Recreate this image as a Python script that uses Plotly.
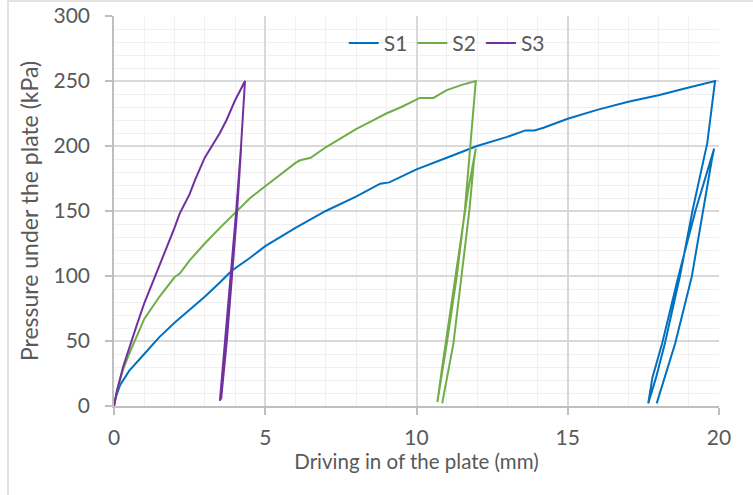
import plotly.graph_objects as go

# S1 (blue)
s1_x = [0, 0.05, 0.2, 0.5, 1, 1.5, 2, 2.5, 3, 3.5, 3.89, 4.5, 5, 6, 7, 8, 8.8, 9.1, 10, 11, 12, 13, 13.6, 13.9, 14.2, 15, 16, 17, 18, 19, 19.87,
        19.61, 19.13, 18.71, 18.21, 17.92, 17.66,
        17.8, 18.12, 18.66, 19.23, 19.84,
        19.76, 19.48, 19.1, 18.55, 18.2, 17.94]
s1_y = [0, 6, 16, 27, 40, 53, 64, 74, 84, 95, 104, 114, 123, 137, 150, 161, 171, 172, 182, 191, 200, 207, 212, 212, 214, 221, 228, 234, 239, 245, 250,
        202, 151, 100, 48, 22, 2,
        22, 48, 100, 151, 198,
        189, 151, 99.5, 48, 22, 2]

# S2 (green)
s2_x = [0, 0.1, 0.3, 0.5, 1, 1.5, 2, 2.18, 2.5, 3, 3.5, 4.11, 4.5, 5, 5.27, 5.5, 6, 6.15, 6.5, 7, 7.5, 8, 8.5, 9, 9.5, 9.83, 10.11, 10.56, 11.0, 11.5, 11.96,
        11.6, 11.33, 11.0, 10.69,
        10.85, 11.1, 11.4, 11.7, 11.96,
        11.9, 11.75, 11.49, 11.22, 10.85]
s2_y = [0, 12, 28, 40, 67, 84, 99, 102, 112, 125, 137, 151, 160, 169, 174, 178, 187, 189, 191, 199, 206, 213, 219, 225, 230, 234, 237, 237, 243, 247, 250,
        151, 99.5, 48, 3,
        30, 70, 120, 165, 198,
        189, 151, 99.5, 48, 2]

# S3 (purple)
s3_x = [0, 0.1, 0.3, 0.5, 0.75, 1, 1.3, 1.5, 2, 2.17, 2.5, 2.68, 3.0, 3.23, 3.5, 3.72, 4.0, 4.2, 4.33,
        4.2, 4.05, 3.88, 3.7, 3.5,
        3.67, 3.86, 4.04, 4.2,
        4.07, 3.9, 3.73, 3.54]
s3_y = [0, 12, 30, 45, 62, 79, 97, 108, 137, 148, 163, 174, 191, 199.5, 210, 220, 235, 244, 250,
        200, 150, 100, 50, 4,
        50, 100, 150, 198,
        150, 100, 50, 5]

x_ticks = [0, 5, 10, 15, 20]
y_ticks = [0, 50, 100, 150, 200, 250, 300]

FONT = "Lato"
TXT = "#595959"

fig = go.Figure()
fig.add_trace(go.Scatter(x=s1_x, y=s1_y, name="S1", mode="lines",
                         line=dict(color="#0070C0", width=2)))
fig.add_trace(go.Scatter(x=s2_x, y=s2_y, name="S2", mode="lines",
                         line=dict(color="#70AD47", width=2)))
fig.add_trace(go.Scatter(x=s3_x, y=s3_y, name="S3", mode="lines",
                         line=dict(color="#7030A0", width=2)))

fig.update_layout(
    width=753, height=495,
    margin=dict(l=114, r=34, t=16, b=89, autoexpand=False),
    paper_bgcolor="white", plot_bgcolor="white",
    font=dict(family=FONT, size=20, color=TXT),
    legend=dict(orientation="h", x=0.55, y=0.93, xanchor="center", yanchor="middle",
                font=dict(size=21, color=TXT), bgcolor="rgba(0,0,0,0)",
                itemwidth=30, tracegroupgap=0),
    shapes=[dict(type="rect", xref="paper", yref="paper",
                 x0=-0.1752, x1=1.1, y0=-0.3, y1=1.0385,
                 line=dict(color="#d9d9d9", width=1.5), layer="below")],
)
fig.update_xaxes(
    range=[0, 20], tickvals=x_ticks, showline=True, linecolor="#bfbfbf", linewidth=1.5,
    showgrid=True, gridcolor="#d9d9d9", gridwidth=1.5, automargin=False,
    ticks="outside", ticklen=7, tickcolor="#bfbfbf", tickwidth=1.5,
    minor=dict(dtick=1, showgrid=True, gridcolor="#f0f0f0", gridwidth=1),
    zeroline=False, ticklabelstandoff=5, ticklabeloverflow="allow",
    title=dict(text="Driving in of the plate (mm)", font=dict(size=20.5, color=TXT), standoff=0),
    tickfont=dict(size=21, color=TXT),
)
fig.update_yaxes(
    range=[0, 300], tickvals=y_ticks, showline=True, linecolor="#bfbfbf", linewidth=1.5,
    showgrid=True, gridcolor="#d9d9d9", gridwidth=1.5, automargin=False,
    ticks="outside", ticklen=7, tickcolor="#bfbfbf", tickwidth=1.5,
    minor=dict(dtick=10, showgrid=True, gridcolor="#f0f0f0", gridwidth=1),
    zeroline=False, ticklabelstandoff=11, ticklabeloverflow="allow",
    title=dict(text="Pressure under the plate (kPa)", font=dict(size=23, color=TXT), standoff=8),
    tickfont=dict(size=21, color=TXT),
)

fig.write_html("out.html", config={"displayModeBar": False},
               post_script="document.body.style.margin='0';")
